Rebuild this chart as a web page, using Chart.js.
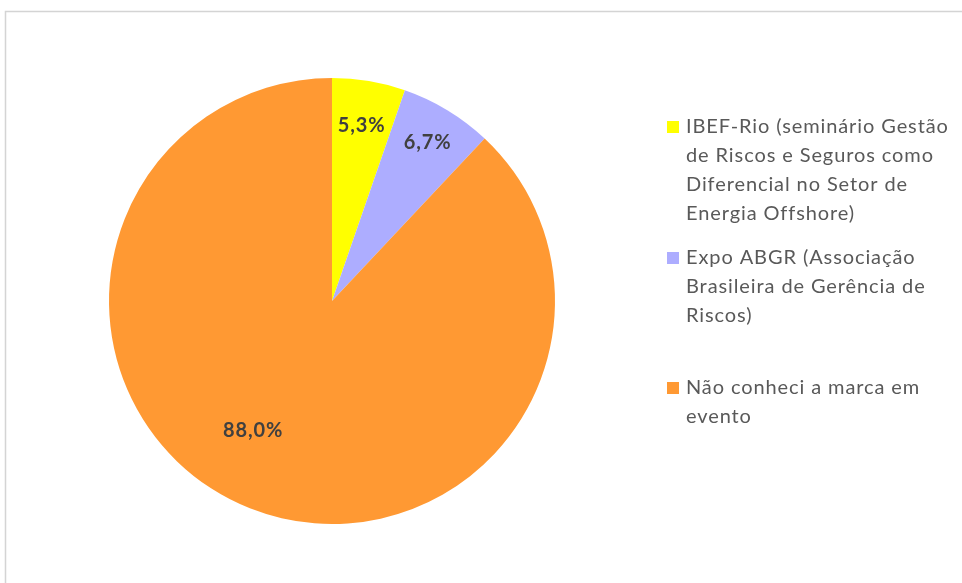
<!DOCTYPE html>
<html lang="pt">
<head>
    <meta charset="UTF-8">
    <title>Conheceu a marca em evento</title>
    <script src="https://cdn.jsdelivr.net/npm/chart.js"></script>
    <style>
        body, html {
            margin: 0;
            padding: 0;
            width: 962px;
            height: 583px;
            overflow: hidden;
            background: #fff;
            font-family: Lato, Arial, sans-serif;
        }
        #wrap { position: relative; width: 962px; height: 583px; }
    </style>
</head>
<body>
<div id="wrap"><canvas id="pieChart"></canvas></div>
<script>
    const categories = [
        "IBEF-Rio (seminário Gestão de Riscos e Seguros como Diferencial no Setor de Energia Offshore)",
        "Expo ABGR (Associação Brasileira de Gerência de Riscos)",
        "Não conheci a marca em evento"
    ];
    // legend wrapping as in the original
    const legendLines = [
        ["IBEF-Rio (seminário Gestão", "de Riscos e Seguros como", "Diferencial no Setor de", "Energia Offshore)"],
        ["Expo ABGR (Associação", "Brasileira de Gerência de", "Riscos)"],
        ["Não conheci a marca em", "evento"]
    ];
    const values = [5.3, 6.7, 88.0];
    const colors = ["#FFFF00", "#ADADFF", "#FF9933"];

    // frame around the chart, cut off at right/bottom like the screenshot
    const framePlugin = {
        id: 'frame',
        beforeDraw(chart) {
            const c = chart.ctx;
            c.save();
            c.strokeStyle = '#d4d4d4';
            c.lineWidth = 1.5;
            c.strokeRect(5.5, 11.5, 1000, 600);
            c.restore();
        }
    };

    // percentage labels inside slices
    const sliceLabels = {
        id: 'sliceLabels',
        afterDatasetsDraw(chart) {
            const c = chart.ctx;
            const meta = chart.getDatasetMeta(0);
            const tweaks = [{ r: 0.8, da: 0 }, { r: 0.83, da: 0 }, { r: 0.68, da: 0.17 }];
            c.save();
            c.font = 'bold 20px Lato, Arial, sans-serif';
            c.letterSpacing = '0.9px';
            c.fillStyle = '#404040';
            c.textAlign = 'center';
            c.textBaseline = 'middle';
            meta.data.forEach((arc, i) => {
                const p = arc.getProps(['x', 'y', 'startAngle', 'endAngle', 'outerRadius'], true);
                const a = (p.startAngle + p.endAngle) / 2 + tweaks[i].da;
                const r = p.outerRadius * tweaks[i].r;
                const txt = values[i].toFixed(1).replace('.', ',') + '%';
                c.fillText(txt, p.x + Math.cos(a) * r, p.y + Math.sin(a) * r);
            });
            c.restore();
        }
    };

    // legend on the right with wrapped lines
    const sideLegend = {
        id: 'sideLegend',
        afterDraw(chart) {
            const c = chart.ctx;
            const x0 = 667, tx = 686, lh = 29;
            const starts = [127, 258, 388];
            c.save();
            c.font = '20px Lato, Arial, sans-serif';
            c.letterSpacing = '0.9px';
            c.textBaseline = 'middle';
            legendLines.forEach((lines, i) => {
                c.fillStyle = colors[i];
                c.fillRect(x0, starts[i] - 6, 12, 12);
                c.fillStyle = '#595959';
                lines.forEach((ln, j) => c.fillText(ln, tx, starts[i] + j * lh));
            });
            c.restore();
        }
    };

    new Chart(document.getElementById('pieChart'), {
        type: 'pie',
        data: {
            labels: categories,
            datasets: [{
                data: values,
                backgroundColor: colors,
                borderWidth: 0
            }]
        },
        options: {
            responsive: true,
            maintainAspectRatio: false,
            animation: false,
            layout: { padding: { left: 109, right: 407, top: 78, bottom: 59 } },
            plugins: {
                legend: { display: false },
                tooltip: { enabled: false }
            }
        },
        plugins: [framePlugin, sliceLabels, sideLegend]
    });
</script>
</body>
</html>
